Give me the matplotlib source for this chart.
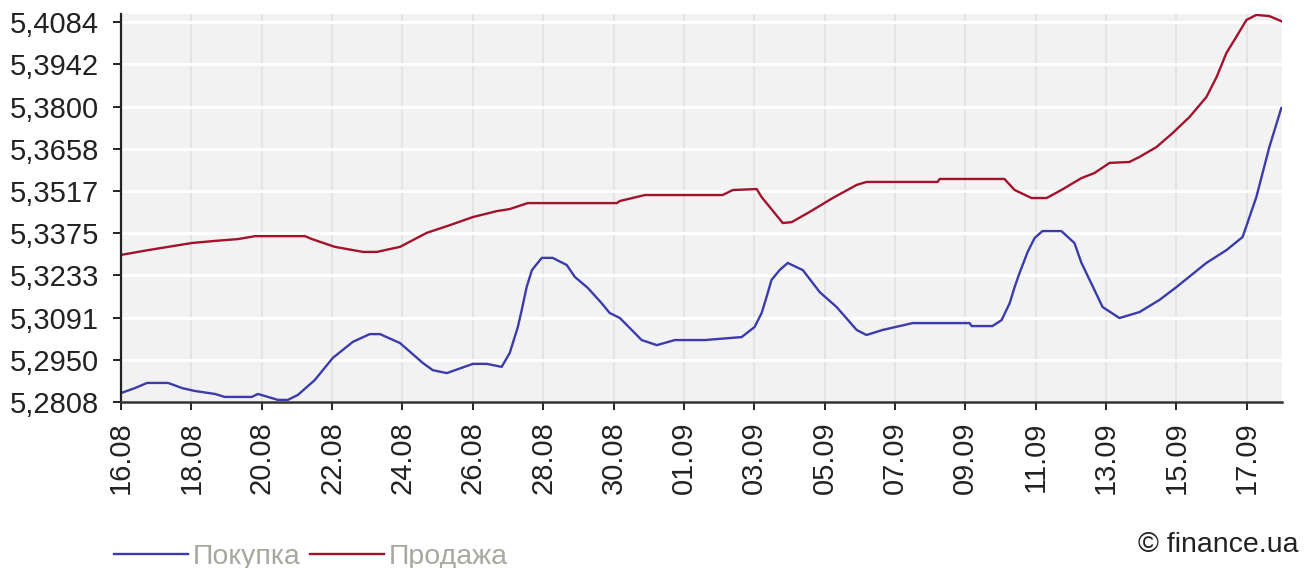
import matplotlib
matplotlib.use("Agg")
import matplotlib.pyplot as plt
from matplotlib.lines import Line2D

plt.rcParams["font.family"] = ["Liberation Sans", "DejaVu Sans"]

# дні від 16.08
x_tick_labels = ["16.08", "18.08", "20.08", "22.08", "24.08", "26.08", "28.08", "30.08",
                 "01.09", "03.09", "05.09", "07.09", "09.09", "11.09", "13.09", "15.09", "17.09"]
y_tick_labels = ["5,2808", "5,2950", "5,3091", "5,3233", "5,3375",
                 "5,3517", "5,3658", "5,3800", "5,3942", "5,4084"]

buy_days = [0.00, 0.40, 0.74, 1.34, 1.73, 2.10, 2.67, 2.95, 3.72, 3.89, 4.18, 4.46, 4.74,
            5.03, 5.51, 6.02, 6.59, 7.07, 7.36, 7.93, 8.58, 8.86, 9.26, 10.00, 10.40, 10.82,
            11.05, 11.28, 11.39, 11.53, 11.68, 11.96, 12.27, 12.67, 12.90, 13.27, 13.66,
            13.89, 14.18, 14.80, 15.23, 15.74, 16.59, 17.64, 18.01, 18.21, 18.35, 18.49,
            18.72, 18.95, 19.38, 19.86, 20.34, 20.91, 21.19, 21.65, 22.13, 22.50, 24.12,
            24.18, 24.77, 25.03, 25.26, 25.40, 25.54, 25.77, 25.97, 26.19, 26.73, 27.10,
            27.30, 27.67, 27.90, 28.38, 28.95, 29.52, 30.00, 30.85, 31.42, 31.88, 32.27,
            32.64, 32.98]
buy_rate = [5.2838, 5.2855, 5.2872, 5.2872, 5.2855, 5.2845, 5.2835, 5.2825, 5.2825, 5.2835,
            5.2825, 5.2815, 5.2815, 5.2832, 5.2882, 5.2956, 5.3010, 5.3036, 5.3036, 5.3006,
            5.2939, 5.2915, 5.2905, 5.2936, 5.2936, 5.2926, 5.2973, 5.3060, 5.3117, 5.3194,
            5.3251, 5.3292, 5.3292, 5.3268, 5.3228, 5.3191, 5.3140, 5.3107, 5.3090, 5.3016,
            5.2999, 5.3016, 5.3016, 5.3026, 5.3060, 5.3107, 5.3161, 5.3218, 5.3251, 5.3275,
            5.3251, 5.3177, 5.3127, 5.3050, 5.3033, 5.3050, 5.3063, 5.3073, 5.3073, 5.3063,
            5.3063, 5.3083, 5.3140, 5.3194, 5.3241, 5.3312, 5.3359, 5.3382, 5.3382, 5.3342,
            5.3275, 5.3184, 5.3127, 5.3090, 5.3110, 5.3151, 5.3194, 5.3275, 5.3318, 5.3362,
            5.3496, 5.3664, 5.3795]

sell_days = [0.00, 0.77, 1.34, 2.02, 2.67, 3.32, 3.81, 5.23, 5.43, 6.08, 6.88, 7.27, 7.93,
             8.69, 9.35, 10.00, 10.68, 11.05, 11.56, 14.09, 14.18, 14.89, 16.59, 17.10, 17.39,
             18.07, 18.21, 18.81, 19.06, 19.57, 20.23, 20.91, 21.19, 23.21, 23.27, 25.11,
             25.40, 25.88, 26.31, 26.73, 27.30, 27.67, 28.10, 28.66, 28.95, 29.43, 29.89,
             30.37, 30.85, 31.14, 31.42, 31.70, 31.99, 32.27, 32.64, 32.98]
sell_rate = [5.3302, 5.3318, 5.3329, 5.3342, 5.3349, 5.3355, 5.3365, 5.3365, 5.3355, 5.3329,
             5.3312, 5.3312, 5.3329, 5.3376, 5.3402, 5.3429, 5.3449, 5.3456, 5.3476, 5.3476,
             5.3483, 5.3503, 5.3503, 5.3503, 5.3520, 5.3523, 5.3496, 5.3409, 5.3412, 5.3446,
             5.3493, 5.3537, 5.3547, 5.3547, 5.3557, 5.3557, 5.3520, 5.3493, 5.3493, 5.3520,
             5.3560, 5.3577, 5.3611, 5.3614, 5.3631, 5.3664, 5.3711, 5.3765, 5.3832, 5.3899,
             5.3980, 5.4034, 5.4091, 5.4108, 5.4104, 5.4087]

buy_color = "#3b3bab"
sell_color = "#a3122c"

fig = plt.figure(figsize=(13.12, 5.68), dpi=100)
ax = fig.add_axes([121 / 1312, 1 - 402 / 568, (1282 - 121) / 1312, (402 - 14) / 568])
ax.set_facecolor("#f2f2f2")

ax.plot(buy_days, buy_rate, color=buy_color, lw=1.7)
ax.plot(sell_days, sell_rate, color=sell_color, lw=1.7)

y_ticks = [float(s.replace(",", ".")) for s in y_tick_labels]
ax.set_yticks(y_ticks)
ax.set_yticklabels(y_tick_labels)
ax.set_xticks(range(0, 2 * len(x_tick_labels), 2))
ax.set_xticklabels(x_tick_labels, rotation=90)
ax.set_xlim(0, 33)
ax.set_ylim(5.2808, 5.4111)

ax.grid(axis="y", color="white", lw=2.2)
ax.grid(axis="x", color="#e3e3e3", lw=1.4)
ax.set_axisbelow(True)
for s in ["top", "right"]:
    ax.spines[s].set_visible(False)
ax.spines["left"].set_color("#222222")
ax.spines["bottom"].set_color("#333333")
ax.spines["left"].set_linewidth(1.6)
ax.spines["bottom"].set_linewidth(1.8)
ax.tick_params(axis="both", colors="#222222", labelsize=21, length=6, width=1.4)
ax.tick_params(axis="y", pad=10)
ax.tick_params(axis="x", pad=8)

handles = [Line2D([], [], color=buy_color, lw=1.7), Line2D([], [], color=sell_color, lw=1.7)]
leg = fig.legend(handles, ["Покупка", "Продажа"], loc="center left",
                 bbox_to_anchor=(114 / 1312, 1 - 557 / 568), ncol=2, frameon=False,
                 fontsize=20.5, handlelength=2.6, handletextpad=0.15, columnspacing=0.35,
                 borderpad=0, borderaxespad=0)
for t in leg.get_texts():
    t.set_color("#a8a8a0")

fig.text(1298 / 1312, 1 - 545 / 568, "© finance.ua", ha="right", va="center",
         fontsize=20.5, color="#222222")

fig.savefig("out.png", dpi=100)
